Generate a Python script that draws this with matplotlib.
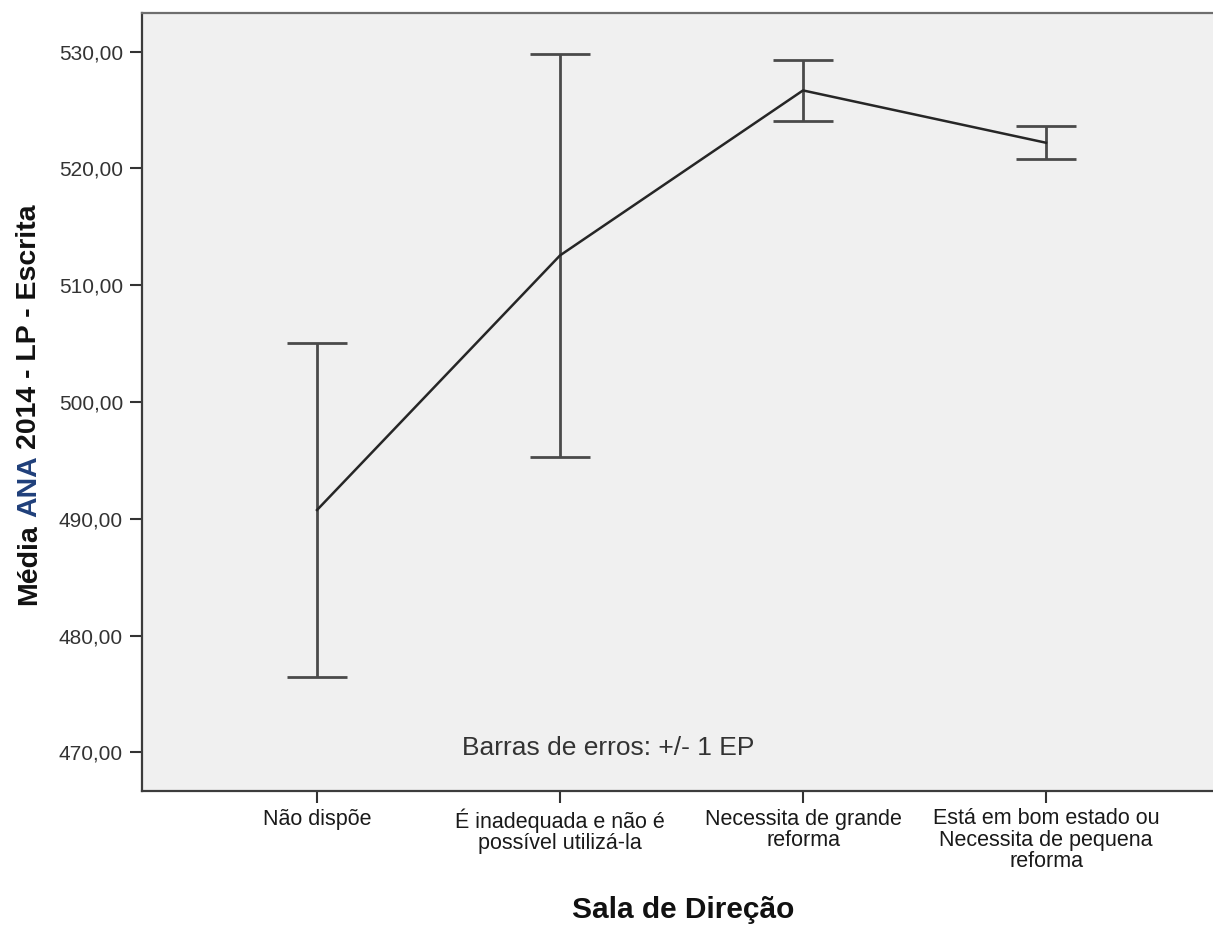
import matplotlib
matplotlib.use("Agg")
import matplotlib.pyplot as plt
from matplotlib.ticker import FuncFormatter

plt.rcParams['font.family'] = ['Liberation Sans', 'DejaVu Sans']

categorias = ["Não dispõe",
              "É inadequada e não é\npossível utilizá-la",
              "Necessita de grande\nreforma",
              "Está em bom estado ou\nNecessita de pequena\nreforma"]
medias = [490.75, 512.55, 526.68, 522.20]
erro_padrao = [14.29, 17.28, 2.59, 1.40]
y_ticks = [470, 480, 490, 500, 510, 520, 530]

W, H = 1213, 925
fig = plt.figure(figsize=(W / 100, H / 100), dpi=100)
fig.patch.set_facecolor("white")

# eixo se estende um pouco além da borda direita (sem borda visível)
ax = fig.add_axes([142 / W, 134 / H, 1079 / W, 778 / H])
ax.set_facecolor("#f0f0f0")

x = list(range(1, len(categorias) + 1))
ax.errorbar(x, medias, yerr=erro_padrao, fmt="none", ecolor="#4a4a4a",
            elinewidth=2.0, capsize=21.6, capthick=2.0, zorder=2)
ax.plot(x, medias, color="#262626", linewidth=1.8, zorder=3)

ax.set_xlim(1 - 175 / 243, 4 + 175 / 243)
ax.set_ylim(466.69, 533.31)
ax.set_xticks(x)
ax.set_xticklabels(categorias, fontsize=15.5, linespacing=1.02, color="#1a1a1a")
ax.set_yticks(y_ticks)
ax.yaxis.set_major_formatter(FuncFormatter(lambda v, p: f"{v:.2f}".replace(".", ",")))
ax.tick_params(axis="y", labelsize=15, length=8.6, width=1.5, pad=5,
               colors="#333333", labelcolor="#333333")
ax.tick_params(axis="x", length=8.6, width=1.5, pad=4, colors="#333333",
               labelcolor="#1a1a1a")

for lado in ["left", "bottom", "top"]:
    ax.spines[lado].set_color("#3c3c3c")
    ax.spines[lado].set_linewidth(1.6)
ax.spines["top"].set_color("#6e6e6e")
ax.spines["right"].set_visible(False)

ax.text(2.2, 470.4, "Barras de erros: +/- 1 EP", fontsize=19, color="#333333",
        ha="center", va="center")

fig.text(683 / W, 1 - 910 / H, "Sala de Direção", fontsize=21.5,
         fontweight="bold", ha="center", va="center", color="#111111")

# rótulo do eixo Y em partes para colorir "ANA"
renderer = fig.canvas.get_renderer()


def largura(s):
    t = fig.text(0, 0, s, fontsize=20.5, fontweight="bold")
    w = t.get_window_extent(renderer).width
    t.remove()
    return w


partes = [("Média", "#111111"), ("ANA", "#1f3f7a"), ("2014 - LP - Escrita", "#111111")]
completo = ""
y0 = 320
for s, cor in partes:
    prefixo = (completo + " " if completo else "")
    off = largura(prefixo + s) - largura(s) if prefixo else 0
    fig.text(36 / W, (y0 + off) / H, s, fontsize=20.5, fontweight="bold",
             color=cor, rotation=90, rotation_mode="anchor",
             ha="left", va="baseline")
    completo = prefixo + s

fig.savefig("out.png", dpi=100)
